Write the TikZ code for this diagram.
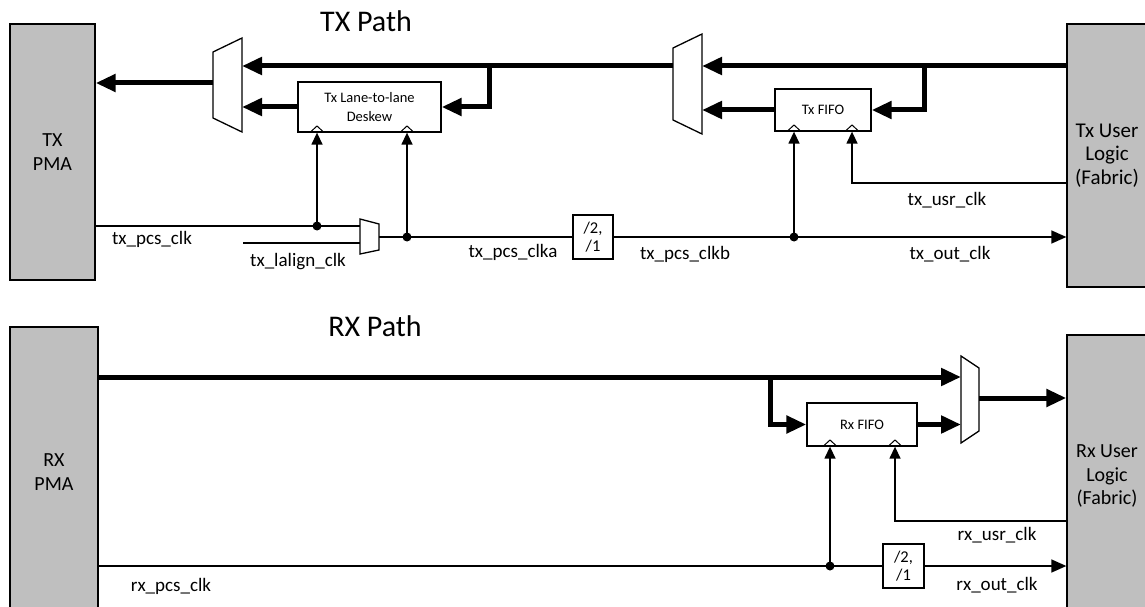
\documentclass[tikz,border=0pt]{standalone}
\usepackage{fontspec}
\setmainfont{Carlito}
\usetikzlibrary{arrows.meta}
\definecolor{boxgray}{RGB}{191,191,191}
\begin{document}
\begin{tikzpicture}[x=1pt,y=-1pt,
  gbox/.style={draw=black, line width=1.3pt, fill=boxgray, align=center, inner sep=0pt, font=\fontsize{20}{23.5}\selectfont},
  wbox/.style={draw=black, line width=1.3pt, fill=white, align=center, inner sep=0pt},
  data/.style={line width=5pt},
  dataarr/.style={data, -{Triangle[length=20pt,width=17pt]}},
  clk/.style={line width=1.4pt},
  clkarr/.style={clk, -{Triangle[length=12pt,width=11pt]}},
  outarr/.style={clk, -{Triangle[length=15pt,width=13pt]}},
  chev/.style={line width=1pt},
  lbl/.style={font=\fontsize{19}{22}\selectfont, inner sep=0pt},
  ttl/.style={font=\fontsize{30}{36}\selectfont, inner sep=0pt},
  small/.style={font=\fontsize{14.5}{19}\selectfont},
  divtext/.style={font=\fontsize{16.5}{18}\selectfont},
  dotc/.style={circle, fill=black, inner sep=0pt, minimum size=9pt},
]
\useasboundingbox (0,0) rectangle (1145,607);

% ---------------- TX ----------------
\node[ttl] (txtitle) at (366,21) {TX Path};
\node[gbox, minimum width=85pt, minimum height=256pt] (txpma) at (52.5,152) {TX\\PMA};
\node[gbox, minimum width=80pt, minimum height=263pt, font=\fontsize{21}{23.5}\selectfont] (txusr) at (1107,155.5) {Tx User\\Logic\\(Fabric)};
\node[wbox, small, minimum width=143pt, minimum height=50pt] (deskew) at (369.5,107) {Tx Lane-to-lane\\Deskew};
\node[wbox, small, minimum width=96pt, minimum height=42pt] (txfifo) at (823,110) {Tx FIFO};
\node[wbox, divtext, minimum width=40pt, minimum height=44pt] (txdiv) at (593,237) {/2,\\/1};

% muxes
\draw[line width=1.3pt, fill=white] (213,52) -- (242,38) -- (242,132) -- (213,118) -- cycle;
\draw[line width=1.3pt, fill=white] (673,48) -- (702,34) -- (702,134) -- (673,120) -- cycle;
\draw[line width=1.3pt, fill=white] (360,219) -- (379,224) -- (379,250) -- (360,254) -- cycle;
\coordinate (m1out) at (213,83);
\coordinate (m1a) at (242,66);
\coordinate (m2out) at (673,66);
\coordinate (m2a) at (702,66);
\coordinate (smA) at (360,226);
\coordinate (smB) at (360,243);
\coordinate (smOut) at (379,237);
\coordinate (br1) at (924,66);
\coordinate (br2) at (489,66);
\coordinate (lal) at (243,243);
\coordinate (u1) at (852,183);

% data paths
\draw[dataarr] (txusr.west |- m2a) -- (m2a);
\draw[dataarr] (br1) |- (txfifo.east);
\draw[dataarr] (txfifo.west) -- (txfifo.west -| m2a);
\draw[dataarr] (m2out) -- (m1a);
\draw[dataarr] (br2) |- (deskew.east);
\draw[dataarr] (deskew.west) -- (deskew.west -| m1a);
\draw[dataarr] (m1out) -- (m1out -| txpma.east);

% clocks
\node[dotc] (dt1) at (317,226) {};
\node[dotc] (dt2) at (407,237) {};
\node[dotc] (dt3) at (794,237) {};
\draw[clk] (txpma.east |- smA) -- (smA);
\draw[clk] (lal) -- (smB);
\draw[clk] (smOut) -- (txdiv.west);
\draw[clkarr] (dt1.center) -- (dt1 |- deskew.south);
\draw[clkarr] (dt2.center) -- (dt2 |- deskew.south);
\draw[outarr] (txdiv.east) -- (txdiv.east -| txusr.west);
\draw[clkarr] (dt3.center) -- (dt3 |- txfifo.south);
\draw[clkarr] (txusr.west |- u1) -| (txfifo.south -| u1);
\foreach \x in {317,407} \draw[chev] (\x-6.5,132) -- (\x,126) -- (\x+6.5,132);
\foreach \x in {794,852} \draw[chev] (\x-6.5,131) -- (\x,125) -- (\x+6.5,131);

\node[lbl] (l1) at (152,239) {tx\_pcs\_clk};
\node[lbl] (l2) at (298,262) {tx\_lalign\_clk};
\node[lbl] (l3) at (513,252) {tx\_pcs\_clka};
\node[lbl] (l4) at (685,254) {tx\_pcs\_clkb};
\node[lbl] (l5) at (947,200) {tx\_usr\_clk};
\node[lbl] (l6) at (950,254) {tx\_out\_clk};

% ---------------- RX ----------------
\node[ttl] (rxtitle) at (375,326) {RX Path};
\node[gbox, minimum width=88pt, minimum height=290pt] (rxpma) at (54,472) {RX\\PMA};
\node[gbox, minimum width=80pt, minimum height=282pt] (rxusr) at (1107,476) {Rx User\\Logic\\(Fabric)};
\node[wbox, small, minimum width=110pt, minimum height=43pt] (rxfifo) at (862,424.5) {Rx FIFO};
\node[wbox, divtext, minimum width=41pt, minimum height=44pt] (rxdiv) at (903.5,566) {/2,\\/1};

\draw[line width=1.3pt, fill=white] (961,356) -- (979,368) -- (979,431) -- (961,443) -- cycle;
\coordinate (m3a) at (961,377);
\coordinate (m3out) at (979,398);
\coordinate (br3) at (770,377);
\coordinate (u2) at (895,521);

\draw[dataarr] (rxpma.east |- m3a) -- (m3a);
\draw[dataarr] (br3) |- (rxfifo.west);
\draw[dataarr] (rxfifo.east) -- (rxfifo.east -| m3a);
\draw[dataarr] (m3out) -- (m3out -| rxusr.west);

\node[dotc] (dt4) at (830,566) {};
\draw[clk] (rxpma.east |- rxdiv.west) -- (rxdiv.west);
\draw[clkarr] (dt4.center) -- (dt4 |- rxfifo.south);
\draw[outarr] (rxdiv.east) -- (rxdiv.east -| rxusr.west);
\draw[clkarr] (rxusr.west |- u2) -| (rxfifo.south -| u2);
\foreach \x in {830,895} \draw[chev] (\x-6.5,446) -- (\x,440) -- (\x+6.5,446);

\node[lbl] (l7) at (171,586) {rx\_pcs\_clk};
\node[lbl] (l8) at (997,535) {rx\_usr\_clk};
\node[lbl] (l9) at (997,585) {rx\_out\_clk};
\end{tikzpicture}
\end{document}
